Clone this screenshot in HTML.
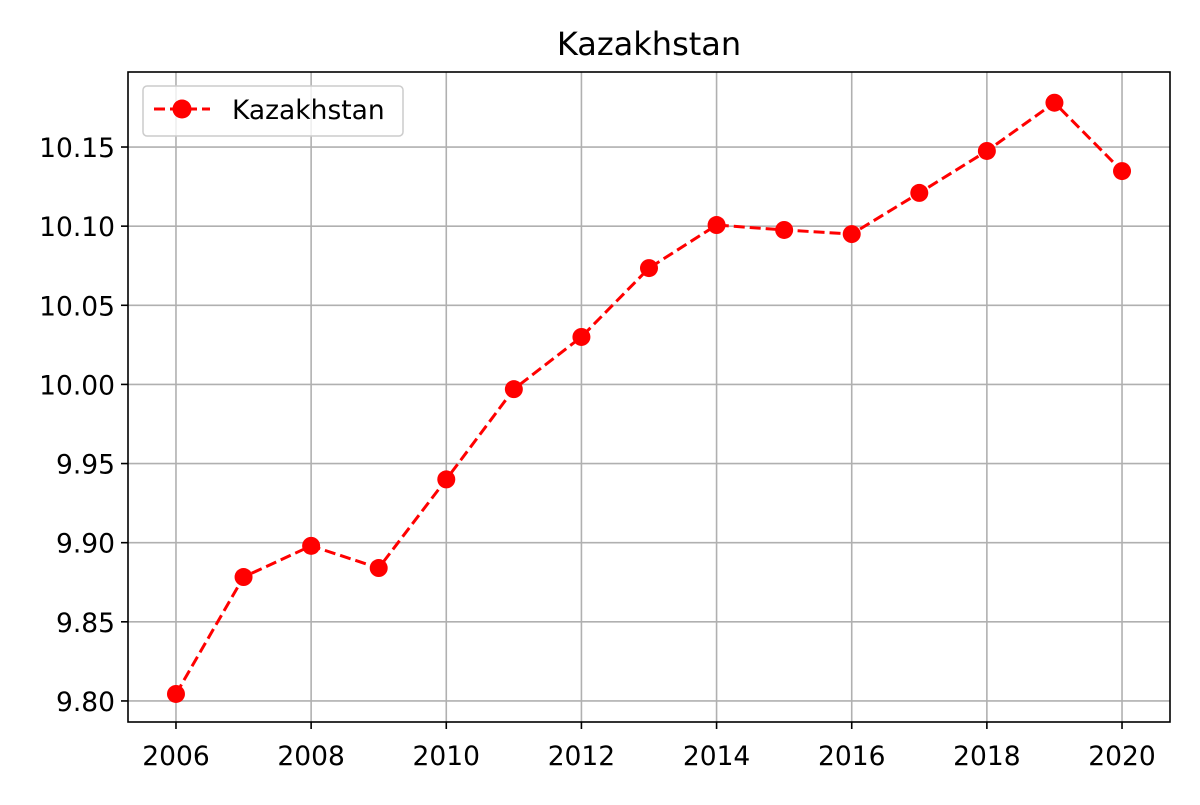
<!DOCTYPE html>
<html><head><meta charset="utf-8"><style>
body{margin:0;background:#fff;}
svg text{font-family:"DejaVu Sans","Liberation Sans",sans-serif;fill:#000;}
</style></head><body>
<svg id="chart" width="1200" height="800" viewBox="0 0 1200 800">
<rect width="1200" height="800" fill="#fff"/>
<text x="649" y="55" font-size="32" text-anchor="middle">Kazakhstan</text>
<g id="grid"></g>
<g id="ticks"></g>
<g id="series"></g>
<rect x="128" y="72" width="1042" height="650" fill="none" stroke="#000" stroke-width="1.6"/>
<g>
<rect x="143" y="86" width="260" height="50" rx="4" fill="#fff" fill-opacity="0.8" stroke="#ccc" stroke-width="1.5"/>
<line x1="154" y1="109" x2="210" y2="109" stroke="#f00" stroke-width="3" stroke-dasharray="11,5"/>
<circle cx="182" cy="109" r="9.5" fill="#f00"/>
<text x="232" y="119" font-size="26.5">Kazakhstan</text>
</g>
</svg>
<script>
const years=[2006,2007,2008,2009,2010,2011,2012,2013,2014,2015,2016,2017,2018,2019,2020];
const values=[9.8044,9.8783,9.898,9.884,9.940,9.997,10.030,10.0735,10.1007,10.0976,10.095,10.121,10.1475,10.178,10.1348];
const xTicks=[2006,2008,2010,2012,2014,2016,2018,2020];
const yTicks=[9.80,9.85,9.90,9.95,10.00,10.05,10.10,10.15];
const NS="http://www.w3.org/2000/svg";
const L=128,R=1170,T=72,B=722;
const x0=2005.29,x1=2020.71,y0=9.7867,y1=10.1974;
const sx=v=>L+(v-x0)/(x1-x0)*(R-L);
const sy=v=>B-(v-y0)/(y1-y0)*(B-T);
function mk(tag,attrs,parent){const e=document.createElementNS(NS,tag);for(const k in attrs)e.setAttribute(k,attrs[k]);document.getElementById(parent).appendChild(e);return e;}
xTicks.forEach(t=>{const x=sx(t);
const g=mk('line',{x1:x,x2:x,y1:T,y2:B,stroke:'#b0b0b0','stroke-width':1.6},'grid');


const tk=mk('line',{x1:x,x2:x,y1:B,y2:B+7,stroke:'#000','stroke-width':1.6},'ticks');


const lb=mk('text',{x:x,y:B+43,'font-size':26.5,'text-anchor':'middle'},'ticks');lb.textContent=t;


});
yTicks.forEach(t=>{const y=sy(t);
const g=mk('line',{x1:L,x2:R,y1:y,y2:y,stroke:'#b0b0b0','stroke-width':1.6},'grid');


const tk=mk('line',{x1:L-7,x2:L,y1:y,y2:y,stroke:'#000','stroke-width':1.6},'ticks');


const lb=mk('text',{x:L-13,y:y+10,'font-size':26.5,'text-anchor':'end'},'ticks');lb.textContent=t.toFixed(2);


});
const pts=years.map((yr,i)=>sx(yr)+','+sy(values[i])).join(' ');
const pl=mk('polyline',{points:pts,fill:'none',stroke:'#f00','stroke-width':3,'stroke-dasharray':'11,5'},'series');


years.forEach((yr,i)=>{const c=mk('circle',{cx:sx(yr),cy:sy(values[i]),r:9,fill:'#f00'},'series');


});
</script>
</body></html>
